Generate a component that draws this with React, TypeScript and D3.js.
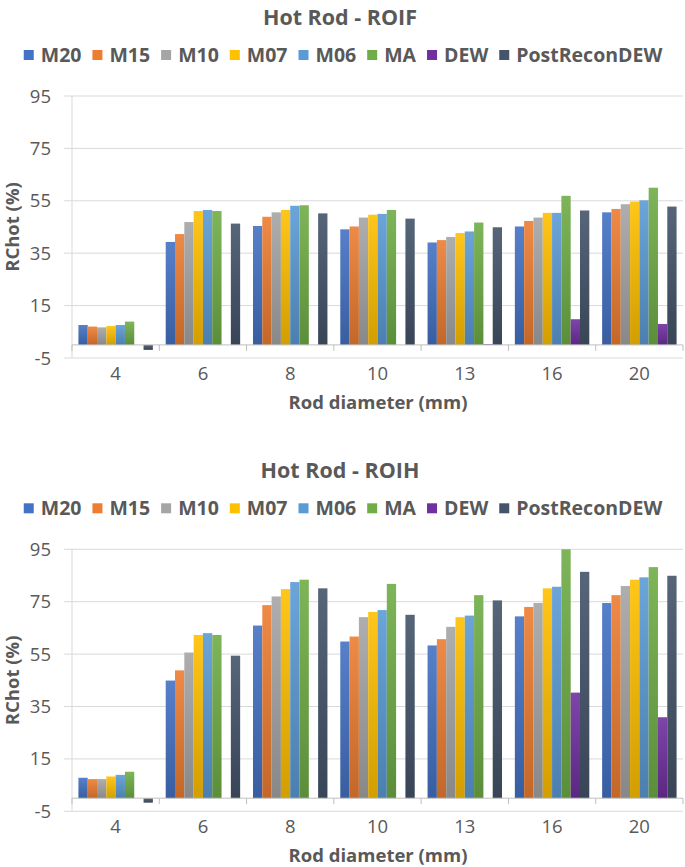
import { useEffect, useRef } from 'react';
import * as d3 from 'd3';

// Rod diameters (mm) and the reconstruction methods
const categories = ['4', '6', '8', '10', '13', '16', '20'];
const seriesNames = ['M20', 'M15', 'M10', 'M07', 'M06', 'MA', 'DEW', 'PostReconDEW'];
const seriesColors = ['#4472C4', '#ED7D31', '#A5A5A5', '#FFC000', '#5B9BD5', '#70AD47', '#7030A0', '#44546A'];
const yTicks = [-5, 15, 35, 55, 75, 95];

// RChot (%) - ROIF, one array per series across the rod diameters
const roifM20 = [7.6, 39.3, 45.4, 44.1, 39.1, 45.2, 50.6];
const roifM15 = [7.0, 42.3, 48.9, 45.2, 40.0, 47.3, 51.9];
const roifM10 = [6.7, 46.9, 50.6, 48.6, 41.2, 48.6, 53.7];
const roifM07 = [7.2, 51.1, 51.5, 49.7, 42.7, 50.4, 54.7];
const roifM06 = [7.6, 51.5, 53.1, 50.0, 43.3, 50.4, 55.2];
const roifMA = [8.9, 51.1, 53.3, 51.5, 46.7, 56.9, 60.0];
const roifDEW = [0, 0, 0, 0, 0.3, 9.8, 8.0];
const roifPost = [-1.9, 46.3, 50.2, 48.2, 44.9, 51.3, 52.8];

// RChot (%) - ROIH
const roihM20 = [7.8, 44.9, 65.9, 59.8, 58.3, 69.4, 74.5];
const roihM15 = [7.3, 48.8, 73.7, 61.7, 60.7, 73.0, 77.5];
const roihM10 = [7.3, 55.6, 77.0, 69.1, 65.4, 74.5, 81.0];
const roihM07 = [8.3, 62.3, 79.8, 71.1, 69.1, 80.1, 83.4];
const roihM06 = [8.9, 63.0, 82.5, 71.8, 69.7, 80.7, 84.3];
const roihMA = [10.1, 62.3, 83.4, 81.8, 77.5, 95.0, 88.2];
const roihDEW = [0, 0, 0, 0, 0, 40.3, 30.9];
const roihPost = [-1.7, 54.4, 80.1, 70.0, 75.5, 86.4, 84.9];

const roif = [roifM20, roifM15, roifM10, roifM07, roifM06, roifMA, roifDEW, roifPost];
const roih = [roihM20, roihM15, roihM10, roihM07, roihM06, roihMA, roihDEW, roihPost];

const FONT = '"Open Sans", sans-serif';
const TEXT = '#595959';

type Sel = d3.Selection<SVGGElement, unknown, null, undefined>;

function drawChart(root: Sel, title: string, values: number[][], oy: number) {
  const g = root.append('g').attr('transform', `translate(0,${oy})`);
  const left = 72, right = 683, top = 96, bottom = 358;

  const x0 = d3.scaleBand<string>().domain(categories).range([left, right]).paddingInner(0).paddingOuter(0);
  const x1 = d3.scaleBand<string>().domain(seriesNames).range([0, x0.bandwidth()])
    .paddingInner(0).paddingOuter(0.69);
  const y = d3.scaleLinear().domain([-5, 95]).range([bottom, top]);

  // title
  g.append('text')
    .attr('x', 340).attr('y', 25)
    .attr('text-anchor', 'middle')
    .style('font-family', FONT).style('font-weight', 'bold').style('font-size', '21.5px')
    .attr('fill', TEXT)
    .text(title);

  // legend, centred like Excel does it
  const legend = g.append('g');
  const items = legend.selectAll('g').data(seriesNames).enter().append('g');
  items.append('rect')
    .attr('width', 10).attr('height', 10).attr('y', -5)
    .attr('fill', (_d, i) => seriesColors[i]);
  items.append('text')
    .attr('x', 17).attr('y', 7)
    .style('font-family', FONT).style('font-weight', 'bold').style('font-size', '19.5px')
    .attr('fill', TEXT)
    .text(d => d);
  let cursor = 0;
  items.each(function () {
    const t = d3.select(this).select('text').node() as SVGTextElement;
    d3.select(this).attr('transform', `translate(${cursor},0)`);
    cursor += 17 + t.getComputedTextLength() + 11;
  });
  const legendWidth = cursor - 11;
  legend.attr('transform', `translate(${343 - legendWidth / 2},55)`);

  // gridlines
  g.append('g').selectAll('line').data(yTicks).enter().append('line')
    .attr('x1', left - 8).attr('x2', right)
    .attr('y1', d => y(d)).attr('y2', d => y(d))
    .attr('stroke', '#D9D9D9').attr('stroke-width', 1);

  // vertical axis line
  g.append('line')
    .attr('x1', left).attr('x2', left).attr('y1', top).attr('y2', bottom)
    .attr('stroke', '#D9D9D9');

  // y tick labels
  g.append('g').selectAll('text').data(yTicks).enter().append('text')
    .attr('x', 51).attr('y', d => y(d) + 6.5)
    .attr('text-anchor', 'end')
    .style('font-family', FONT).style('font-size', '18.5px')
    .attr('fill', TEXT)
    .text(d => d);

  // gradients per series
  const defs = g.append('defs');
  seriesColors.forEach((c, i) => {
    const grad = defs.append('linearGradient')
      .attr('id', `grad-${oy}-${i}`)
      .attr('x1', '0%').attr('y1', '0%').attr('x2', '0%').attr('y2', '100%');
    grad.append('stop').attr('offset', '0%').attr('stop-color', d3.interpolateRgb(c, '#ffffff')(0.1));
    grad.append('stop').attr('offset', '100%').attr('stop-color', d3.color(c)!.darker(0.55).formatHex());
  });

  // bars
  const clusters = g.append('g').selectAll('g').data(categories).enter().append('g')
    .attr('transform', d => `translate(${x0(d)},0)`);
  clusters.selectAll('rect')
    .data((_c, ci) => seriesNames.map((s, si) => ({ s, si, v: values[si][ci] })))
    .enter().append('rect')
    .attr('x', d => x1(d.s)!)
    .attr('width', x1.bandwidth())
    .attr('y', d => y(Math.max(0, d.v)))
    .attr('height', d => Math.abs(y(d.v) - y(0)))
    .attr('fill', d => `url(#grad-${oy}-${d.si})`);

  // category axis at zero
  g.append('line')
    .attr('x1', left).attr('x2', right).attr('y1', y(0)).attr('y2', y(0))
    .attr('stroke', '#BFBFBF');
  g.append('g').selectAll('line').data(d3.range(categories.length + 1)).enter().append('line')
    .attr('x1', i => left + i * x0.step()).attr('x2', i => left + i * x0.step())
    .attr('y1', y(0)).attr('y2', y(0) + 6)
    .attr('stroke', '#BFBFBF');

  // x tick labels
  g.append('g').selectAll('text').data(categories).enter().append('text')
    .attr('x', d => x0(d)! + x0.bandwidth() / 2).attr('y', 380)
    .attr('text-anchor', 'middle')
    .style('font-family', FONT).style('font-size', '18.5px')
    .attr('fill', TEXT)
    .text(d => d);

  // axis titles
  g.append('text')
    .attr('x', 378).attr('y', 409)
    .attr('text-anchor', 'middle')
    .style('font-family', FONT).style('font-weight', 'bold').style('font-size', '18.5px')
    .attr('fill', TEXT)
    .text('Rod diameter (mm)');

  g.append('text')
    .attr('transform', `translate(19,${(top + bottom) / 2}) rotate(-90)`)
    .attr('text-anchor', 'middle')
    .style('font-family', FONT).style('font-weight', 'bold').style('font-size', '18.5px')
    .attr('fill', TEXT)
    .text('RChot (%)');
}

export default function App() {
  const svgRef = useRef<SVGSVGElement>(null);

  useEffect(() => {
    if (!svgRef.current) return;
    const svg = d3.select(svgRef.current);
    svg.selectAll('*').remove();
    const root = svg.append('g') as unknown as Sel;
    drawChart(root, 'Hot Rod - ROIF', roif, 0);
    drawChart(root, 'Hot Rod - ROIH', roih, 453.3);
  }, []);

  return (
    <svg
      ref={svgRef}
      width={685}
      height={867}
      style={{ position: 'absolute', left: 0, top: 0, background: '#fff' }}
    />
  );
}
